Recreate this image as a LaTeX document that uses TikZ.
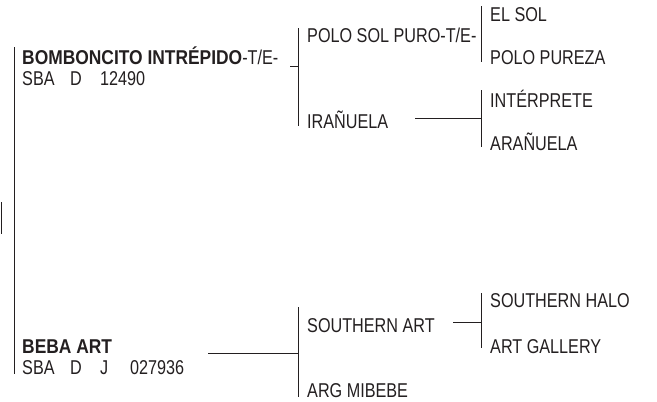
\documentclass[tikz,border=0pt]{standalone}
\usepackage{fontspec}
\setmainfont{Liberation Sans}[FakeStretch=0.81,BoldFeatures={FakeStretch=0.87}]
\begin{document}
\begin{tikzpicture}[x=1pt,y=-1pt,
  lbl/.style={anchor=base west,inner sep=0pt,font=\fontsize{20}{22}\selectfont,text=ink},
  ln/.style={draw=ink,line width=0.9pt}]
\definecolor{ink}{HTML}{231F20}
\useasboundingbox (0,0) rectangle (657,402);
% gen 1
\node[lbl] (a1) at (22,64) {\textbf{BOMBONCITO INTRÉPIDO}-T/E-};
\node[lbl] (a1r) at (22,85) {\makebox[48pt][l]{SBA}\makebox[30pt][l]{D}12490};
\node[lbl] (b1) at (22,353) {\textbf{BEBA ART}};
\node[lbl] (b1r) at (22,374) {\makebox[48pt][l]{SBA}\makebox[30pt][l]{D}\makebox[30pt][l]{J}027936};
% gen 2
\node[lbl] (a2) at (307,42) {POLO SOL PURO-T/E-};
\node[lbl] (a3) at (307,128) {IRAÑUELA};
\node[lbl] (b2) at (307,332) {SOUTHERN ART};
\node[lbl] (b3) at (307,397) {ARG MIBEBE};
% gen 3
\node[lbl] (c1) at (490,21) {EL SOL};
\node[lbl] (c2) at (490,64) {POLO PUREZA};
\node[lbl] (c3) at (490,107) {INTÉRPRETE};
\node[lbl] (c4) at (490,150) {ARAÑUELA};
\node[lbl] (c5) at (490,307) {SOUTHERN HALO};
\node[lbl] (c6) at (490,353) {ART GALLERY};
% coordinates of connectors
\coordinate (r1) at (1.5,202); \coordinate (r2) at (1.5,234);
\coordinate (g1t) at (14,47); \coordinate (g1b) at (14,374);
\coordinate (h1a) at (290,66); \coordinate (h1b) at (298,66);
\coordinate (g2t) at (298,28); \coordinate (g2b) at (298,126);
\coordinate (g3t) at (481,6); \coordinate (g3b) at (481,62);
\coordinate (h2a) at (415,118); \coordinate (h2b) at (481,118);
\coordinate (g4t) at (481,90); \coordinate (g4b) at (481,147);
\coordinate (h3a) at (208,353); \coordinate (h3b) at (298,353);
\coordinate (g5t) at (298,307); \coordinate (g5b) at (298,397);
\coordinate (h4a) at (453,322); \coordinate (h4b) at (481,322);
\coordinate (g6t) at (481,293); \coordinate (g6b) at (481,348);
\draw[ln] (r1) -- (r2);
\draw[ln] (g1t) -- (g1b);
\draw[ln] (h1a) -- (h1b);
\draw[ln] (g2t) -- (g2b);
\draw[ln] (g3t) -- (g3b);
\draw[ln] (h2a) -- (h2b);
\draw[ln] (g4t) -- (g4b);
\draw[ln] (h3a) -- (h3b);
\draw[ln] (g5t) -- (g5b);
\draw[ln] (h4a) -- (h4b);
\draw[ln] (g6t) -- (g6b);
\end{tikzpicture}
\end{document}
